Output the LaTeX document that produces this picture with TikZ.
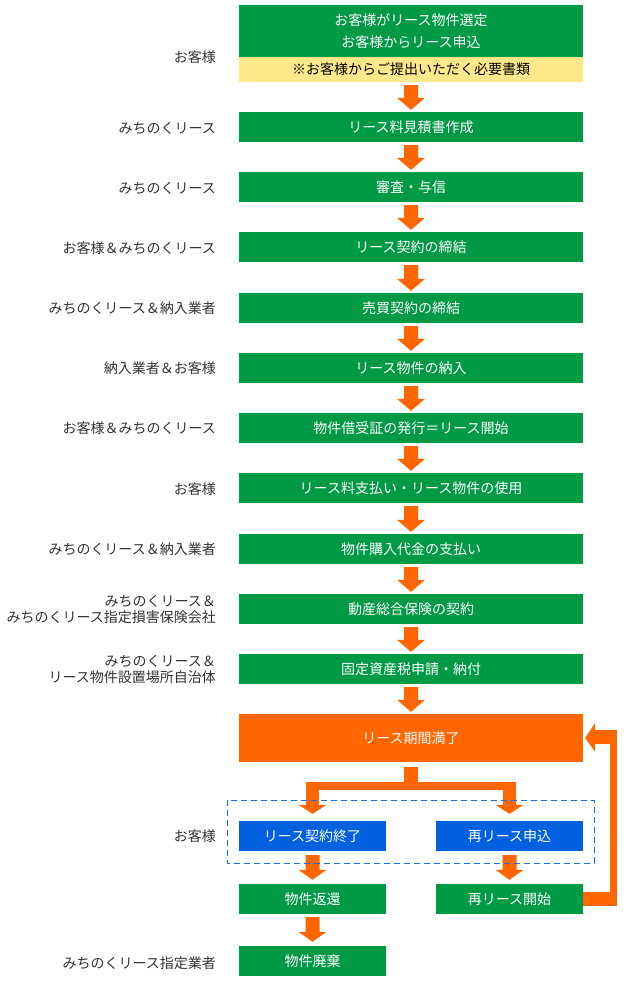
\documentclass[tikz,border=0pt]{standalone}
\usepackage{fontspec}
\setmainfont{Noto Sans CJK JP}
\usetikzlibrary{calc}
\definecolor{lgreen}{RGB}{0,153,68}
\definecolor{lyellow}{RGB}{255,232,138}
\definecolor{lorange}{RGB}{255,102,0}
\definecolor{lblue}{RGB}{0,97,224}
\definecolor{dblue}{RGB}{30,110,225}
\definecolor{labgray}{RGB}{51,51,51}
\newcommand{\darr}[5]{%
  \fill[arr] ($(#1.south)+(-7,#3)$) -- ($(#1.south)+(7,#3)$) --
    ($(#2.north)+(7,-#4-#5)$) -- ($(#2.north)+(14,-#4-#5)$) --
    ($(#2.north)+(0,-#4)$) -- ($(#2.north)+(-14,-#4-#5)$) --
    ($(#2.north)+(-7,-#4-#5)$) -- cycle;}
\begin{document}
\begin{tikzpicture}[x=1pt,y=-1pt,
  box/.style={fill=lgreen, text=white, inner sep=0pt, minimum width=344pt,
    minimum height=30pt, font=\fontsize{14}{22}\selectfont, align=center},
  sbox/.style={box, minimum width=147pt},
  bbox/.style={sbox, fill=lblue},
  lab/.style={anchor=east, text=labgray, align=right, inner sep=0pt,
    font=\fontsize{14}{16}\selectfont},
  arr/.style={fill=lorange}]
\useasboundingbox (0,0) rectangle (630,1007);
% main column
\node[box, minimum height=52pt] (t) at (411,31) {お客様がリース物件選定\\お客様からリース申込};
\node[box, fill=lyellow, text=black, minimum height=25pt] (ty) at (411,69.5) {※お客様からご提出いただく必要書類};
\node[box] (b1) at (411,127) {リース料見積書作成};
\node[box] (b2) at (411,187) {審査・与信};
\node[box] (b3) at (411,247) {リース契約の締結};
\node[box] (b4) at (411,308) {売買契約の締結};
\node[box] (b5) at (411,368) {リース物件の納入};
\node[box] (b6) at (411,428) {物件借受証の発行＝リース開始};
\node[box] (b7) at (411,488) {リース料支払い・リース物件の使用};
\node[box] (b8) at (411,549) {物件購入代金の支払い};
\node[box] (b9) at (411,609) {動産総合保険の契約};
\node[box] (b10) at (411,669) {固定資産税申請・納付};
\node[box, fill=lorange, minimum height=48pt] (o) at (411,738) {リース期間満了};
\node[bbox] (bl) at (312.5,836) {リース契約終了};
\node[bbox] (br) at (509.5,836) {再リース申込};
\node[sbox] (gl) at (312.5,899) {物件返還};
\node[sbox] (gr) at (509.5,899) {再リース開始};
\node[sbox] (gd) at (312.5,961) {物件廃棄};
% labels
\node[lab] (l0) at (216,57) {お客様};
\node[lab] (l1) at (216,128) {みちのくリース};
\node[lab] (l2) at (216,188) {みちのくリース};
\node[lab] (l3) at (216,248) {お客様＆みちのくリース};
\node[lab] (l4) at (216,308) {みちのくリース＆納入業者};
\node[lab] (l5) at (216,368) {納入業者＆お客様};
\node[lab] (l6) at (216,428) {お客様＆みちのくリース};
\node[lab] (l7) at (216,489) {お客様};
\node[lab] (l8) at (216,549) {みちのくリース＆納入業者};
\node[lab] (l9) at (216,609) {みちのくリース＆\\みちのくリース指定損害保険会社};
\node[lab] (l10) at (216,669) {みちのくリース＆\\リース物件設置場所自治体};
\node[lab] (l11) at (216,836) {お客様};
\node[lab] (l12) at (216,963) {みちのくリース指定業者};
% arrows main
\darr{ty}{b1}{3}{2}{12}
\darr{b1}{b2}{3}{2}{12}
\darr{b2}{b3}{3}{2}{12}
\darr{b3}{b4}{3}{2}{12}
\darr{b4}{b5}{3}{2}{12}
\darr{b5}{b6}{3}{2}{12}
\darr{b6}{b7}{3}{2}{12}
\darr{b7}{b8}{3}{2}{12}
\darr{b8}{b9}{3}{2}{12}
\darr{b9}{b10}{3}{2}{12}
\darr{b10}{o}{3}{2}{12}
% split arrow
\fill[arr] ($(o.south)+(-7,5)$) rectangle ($(o.south)+(7,28)$);
\fill[arr] ($(bl.north)+(-6.5,-39)$) rectangle ($(br.north)+(6.5,-31)$);
\fill[arr] ($(bl.north)+(-6.5,-31.5)$) rectangle ($(bl.north)+(6.5,-16)$);
\fill[arr] ($(bl.north)+(-14,-16)$) -- ($(bl.north)+(14,-16)$) -- ($(bl.north)+(0,-7)$) -- cycle;
\fill[arr] ($(br.north)+(-6.5,-31.5)$) rectangle ($(br.north)+(6.5,-16)$);
\fill[arr] ($(br.north)+(-14,-16)$) -- ($(br.north)+(14,-16)$) -- ($(br.north)+(0,-7)$) -- cycle;
% lower arrows
\darr{bl}{gl}{4}{4}{10}
\darr{br}{gr}{4}{4}{10}
\darr{gl}{gd}{3}{4}{10}
% loop arrow
\fill[arr] ($(gr.east)+(0,-7)$) rectangle ($(gr.east)+(34,7)$);
\fill[arr] ($(o.east)+(27,-8)$) rectangle ($(gr.east)+(34,7)$);
\fill[arr] ($(o.east)+(11.5,-8)$) rectangle ($(o.east)+(34,6)$);
\fill[arr] ($(o.east)+(2,0)$) -- ($(o.east)+(12,-15)$) -- ($(o.east)+(12,14)$) -- cycle;
% dashed group
\draw[dblue, line width=1pt, dash pattern=on 6pt off 4pt] (227,800) rectangle (594,863);
\end{tikzpicture}
\end{document}
